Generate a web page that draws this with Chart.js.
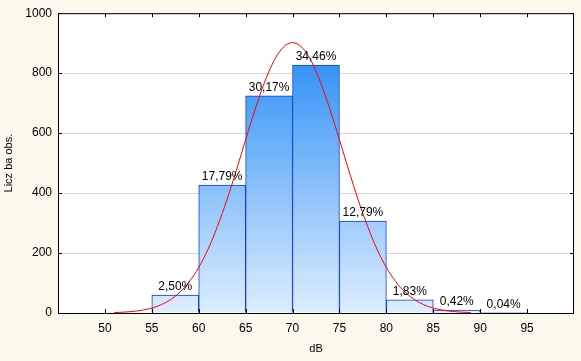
<!DOCTYPE html>
<html><head><meta charset="utf-8">
<script src="https://cdn.jsdelivr.net/npm/chart.js@4/dist/chart.umd.min.js"></script>
<style>html,body{margin:0;padding:0;background:#FDF8EC;overflow:hidden}canvas{display:block}</style>
</head><body>
<canvas id="c" width="581" height="361"></canvas>
<script>
// ---- data ----
const binCenters = [57.5, 62.5, 67.5, 72.5, 77.5, 82.5, 87.5, 92.5];
const counts = [60, 427, 724, 827, 307, 44, 10, 1];
const percentLabels = ['2,50%', '17,79%', '30,17%', '34,46%', '12,79%', '1,83%', '0,42%', '0,04%'];
const curveX = [51,52,53,54,55,56,57,58,59,60,61,62,63,64,65,66,67,68,69,70,71,72,73,74,75,76,77,78,79,80,81,82,83,84,85,86,87,88,89];
const curveY = [1.5,2.8,5.3,9.4,16.4,27.5,44.5,69.6,105,152,213,289,377,475,578,678,768,840,886,902,886,840,768,678,578,475,377,289,213,152,105,69.6,44.5,27.5,16.4,9.4,5.3,2.8,1.5];
const xTickValues = [50, 55, 60, 65, 70, 75, 80, 85, 90, 95];
const yTickValues = [0, 200, 400, 600, 800, 1000];
const xTitle = 'dB';
const yTitle = 'Licz ba obs.';

Chart.defaults.font.family = '"Liberation Sans", Arial, sans-serif';
Chart.defaults.font.size = 12;
Chart.defaults.color = '#000';

const framePlugin = {
  id: 'frame',
  beforeDraw(chart) {
    const {ctx, chartArea: a} = chart;
    ctx.save();
    ctx.fillStyle = '#FDF8EC';
    ctx.fillRect(0, 0, chart.width, chart.height);
    ctx.fillStyle = '#FFFFFF';
    ctx.fillRect(a.left, a.top, a.right - a.left, a.bottom - a.top);
    ctx.restore();
  },
  afterDatasetsDraw(chart) {
    const {ctx, chartArea: a, scales} = chart;
    ctx.save();
    const meta = chart.getDatasetMeta(0);
    ctx.font = '12px "Liberation Sans", Arial, sans-serif';
    ctx.fillStyle = '#000';
    ctx.textAlign = 'center';
    ctx.textBaseline = 'bottom';
    meta.data.forEach((el, i) => {
      ctx.fillText(percentLabels[i], el.x, el.y - 2);
    });
    ctx.strokeStyle = '#000';
    ctx.lineWidth = 1;
    ctx.strokeRect(a.left + 0.5, a.top + 0.5, a.right - a.left - 1, a.bottom - a.top);
    ctx.beginPath();
    xTickValues.forEach(v => {
      const x = Math.round(scales.x.getPixelForValue(v)) + 0.5;
      ctx.moveTo(x, a.top); ctx.lineTo(x, a.top + 4);
      ctx.moveTo(x, a.bottom); ctx.lineTo(x, a.bottom - 4);
    });
    yTickValues.forEach(v => {
      const y = Math.round(scales.y.getPixelForValue(v)) + 0.5;
      ctx.moveTo(a.left, y); ctx.lineTo(a.left + 4, y);
      ctx.moveTo(a.right, y); ctx.lineTo(a.right - 4, y);
    });
    ctx.stroke();
    ctx.restore();
  }
};

new Chart(document.getElementById('c'), {
  type: 'bar',
  data: {
    datasets: [{
      type: 'bar',
      data: binCenters.map((x, i) => ({x: x, y: counts[i]})),
      backgroundColor(ctx) {
        const a = ctx.chart.chartArea;
        if (!a) return '#8CC2FA';
        const g = ctx.chart.ctx.createLinearGradient(0, a.bottom, 0, a.top);
        g.addColorStop(0, '#DEEEFE');
        g.addColorStop(0.82, '#3894F7');
        g.addColorStop(1, '#3894F7');
        return g;
      },
      borderColor: '#0A3FCB',
      borderWidth: 1,
      barPercentage: 1,
      categoryPercentage: 1,
      order: 2
    }, {
      type: 'line',
      data: curveX.map((x, i) => ({x: x, y: curveY[i]})),
      borderColor: '#FF0000',
      borderWidth: 1,
      pointRadius: 0,
      tension: 0.4,
      cubicInterpolationMode: 'monotone',
      fill: false,
      order: 1
    }]
  },
  options: {
    responsive: false,
    animation: false,
    devicePixelRatio: 1,
    layout: {padding: {top: 10, right: 7, left: 0, bottom: 0}},
    plugins: {legend: {display: false}, tooltip: {enabled: false}},
    scales: {
      x: {
        type: 'linear', min: 45, max: 100, offset: false,
        afterBuildTicks(s) { s.ticks = xTickValues.map(v => ({value: v})); },
        afterFit(s) { s.height = 48; },
        grid: {display: false, drawTicks: false, offset: false},
        border: {display: false},
        ticks: {padding: 8, color: '#000', font: {size: 12}, callback: v => String(v)},
        title: {display: true, text: xTitle, color: '#000', font: {size: 11}, padding: {top: 0, bottom: 5}}
      },
      y: {
        min: 0, max: 1000,
        afterBuildTicks(s) { s.ticks = yTickValues.map(v => ({value: v})); },
        afterFit(s) { s.width = 58; },
        grid: {color: '#D6D6D6', drawTicks: false},
        border: {display: false},
        ticks: {padding: 6, color: '#000', font: {size: 12}, callback: v => String(v)},
        title: {display: true, text: yTitle, color: '#000', font: {size: 11}, padding: {top: 2, bottom: 0}}
      }
    }
  },
  plugins: [framePlugin]
});
</script>
</body></html>
